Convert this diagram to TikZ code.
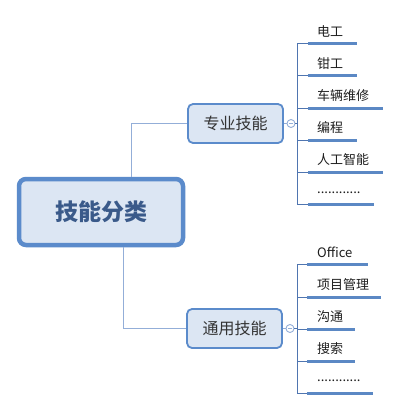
\documentclass[tikz,border=0pt]{standalone}
\usepackage{fontspec}
\setmainfont{Noto Sans CJK SC}
\newcommand{\mydotrow}{............}
\definecolor{boxfill}{HTML}{DCE6F3}
\definecolor{boxline}{HTML}{5B8BCB}
\definecolor{maintext}{HTML}{3A5A8A}
\definecolor{conn}{HTML}{93AED8}
\definecolor{tree}{HTML}{4F75B0}
\definecolor{uline}{HTML}{5B88C4}
\definecolor{itemtext}{HTML}{1E1E1E}
\begin{document}
\begin{tikzpicture}[x=1pt,y=-1pt,
  mainbox/.style={draw=boxline,fill=boxfill,line width=4.5pt,rounded corners=7pt,
    minimum width=164pt,minimum height=66pt,inner sep=0pt,
    font=\fontsize{23}{26}\selectfont\bfseries,text=maintext},
  subbox/.style={draw=boxline,fill=boxfill,line width=1.8pt,rounded corners=5pt,
    minimum width=95pt,minimum height=39pt,inner sep=0pt,
    font=\fontsize{16}{18}\selectfont,text=black!80},
  knob/.style={circle,draw=conn,line width=0.9pt,fill=white,minimum size=8pt,inner sep=0pt},
  conline/.style={draw=conn,line width=1.2pt},
  treeline/.style={draw=tree,line width=0.9pt},
  underl/.style={draw=uline,line width=3pt},
  item/.style={anchor=west,inner sep=0pt,font=\fontsize{13}{15}\selectfont,text=itemtext}
]
\useasboundingbox (0,0) rectangle (400,410);
\fill[white] (0,0) rectangle (400,410);

% top branch tree
\coordinate (j1) at (297,123.5);
\foreach \n/\y/\e/\t in {a1/43/357/电工, a2/75.5/357/钳工, a3/108/383/车辆维修, a4/140/357/编程, a5/172/383/人工智能, a6/204.5/374/\mydotrow}{
  \coordinate (\n s) at (308,\y);
  \coordinate (\n e) at (\e,\y);
  \draw[treeline] (j1) |- (\n s);
  \draw[underl] (\n s) -- (\n e);
  \node[item] (\n t) at (317,\y-12) {\t};
}
% bottom branch tree
\coordinate (j2) at (297,328.5);
\foreach \n/\y/\e/\t in {b1/264/368/Office, b2/297/381/项目管理, b3/329/355/沟通, b4/361/355/搜索, b5/393/373/\mydotrow}{
  \coordinate (\n s) at (307,\y);
  \coordinate (\n e) at (\e,\y);
  \draw[treeline] (j2) |- (\n s);
  \draw[underl] (\n s) -- (\n e);
  \node[item] (\n t) at (317,\y-12) {\t};
}

\node[mainbox] (main) at (101,212) {技能分类};
\node[subbox] (s1) at (235.5,123.5) {专业技能};
\node[subbox] (s2) at (234.5,328.5) {通用技能};

\draw[conline] ([xshift=115pt]main.north west) |- (s1.west);
\draw[conline] ([xshift=107pt]main.south west) |- (s2.west);

\node[knob] (k1) at (291,123.5) {};
\node[knob] (k2) at (290,328.5) {};
\draw[conline] (s1.east) -- (k1.west);
\draw[treeline] (k1.east) -- (j1);
\draw[conline] (s2.east) -- (k2.west);
\draw[treeline] (k2.east) -- (j2);
\draw[conn,line width=0.8pt] ([xshift=-2pt]k1.center) -- ([xshift=2pt]k1.center);
\draw[conn,line width=0.8pt] ([xshift=-2pt]k2.center) -- ([xshift=2pt]k2.center);
\end{tikzpicture}
\end{document}
